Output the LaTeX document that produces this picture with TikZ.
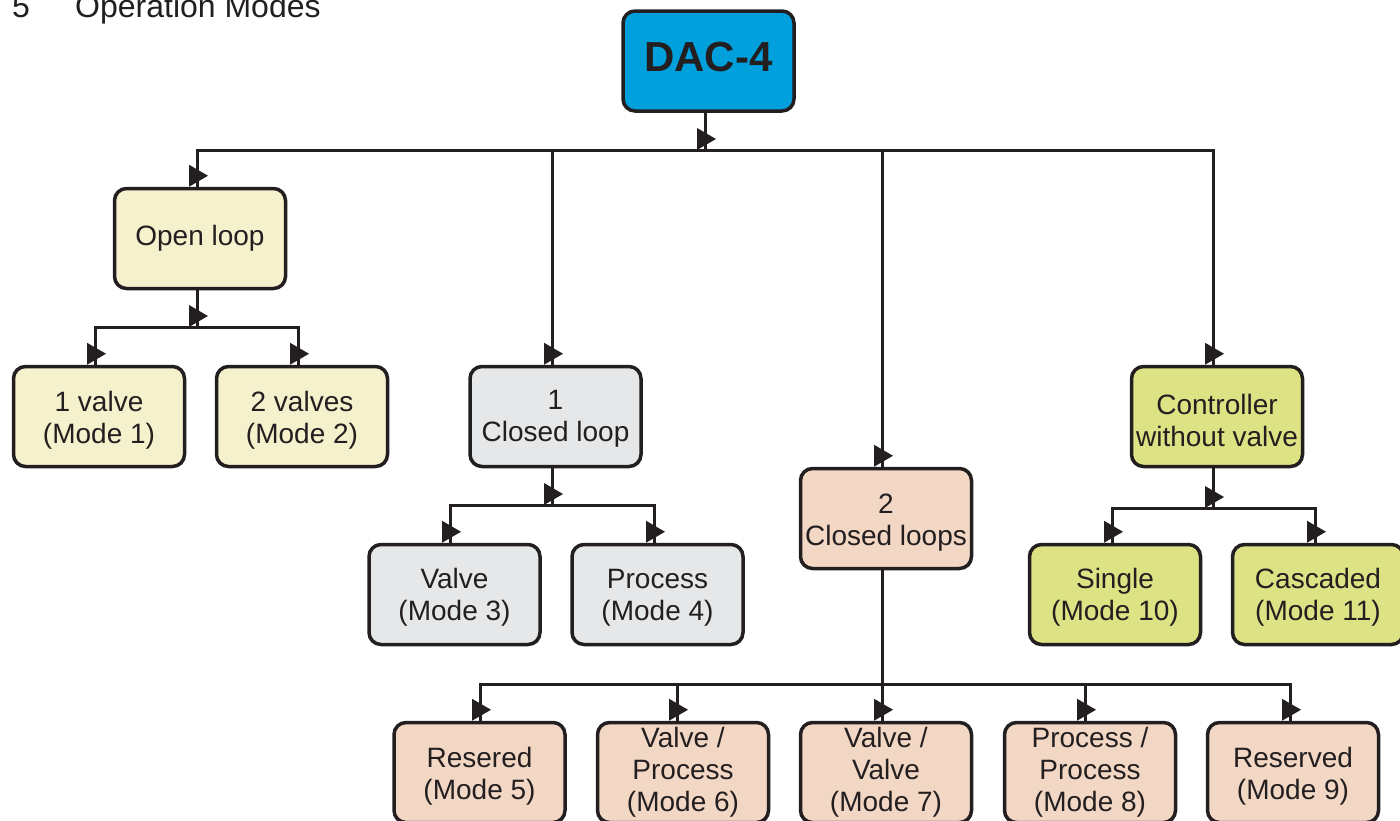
\documentclass[tikz,border=0pt]{standalone}
\usepackage{fontspec}
\setmainfont{Liberation Sans}
\definecolor{linec}{RGB}{35,31,32}
\definecolor{dacblue}{RGB}{0,160,221}
\definecolor{openyel}{RGB}{245,241,204}
\definecolor{cgray}{RGB}{230,231,232}
\definecolor{peach}{RGB}{243,215,197}
\definecolor{cgreen}{RGB}{221,226,132}
\newcommand\lift[1]{\rule{0pt}{#1pt}}
\begin{document}
\begin{tikzpicture}[x=1pt,y=-1pt,
  box/.style={draw=linec, line width=3.5pt, rounded corners=12pt,
    minimum width=171pt, minimum height=100pt, inner sep=2pt,
    align=center, text=linec, font=\fontsize{28}{32}\selectfont},
  conn/.style={draw=linec, line width=3pt},
  arrtip/.pic={\fill[linec] (-8pt,0pt) -- (-8pt,22pt) -- (11pt,11pt) -- cycle;},
  ttl/.style={anchor=base west, inner sep=0pt, text=linec, font=\fontsize{32}{36}\selectfont}]
\useasboundingbox (0,0) rectangle (1400,820);
\clip (0,0) rectangle (1400,820);

% title
\node[ttl] (num) at (12,17) {5};
\node[ttl] (title) at (75,17) {Operation Modes};

% boxes
\node[box, fill=dacblue, font=\fontsize{42}{48}\selectfont\bfseries] (dac) at (708.5,61) {DAC-4\rule[-8pt]{0pt}{0pt}};
\node[box, fill=openyel] (open) at (200,238.5) {Open loop};
\node[box, fill=openyel] (m1) at (99,416.5) {\lift{28.5}1 valve\\(Mode 1)};
\node[box, fill=openyel] (m2) at (302,416.5) {\lift{28.5}2 valves\\(Mode 2)};
\node[box, fill=cgray] (cl1) at (555.5,416.5) {\lift{23.5}1\\Closed loop};
\node[box, fill=cgray] (m3) at (454.5,594.5) {\lift{26.5}Valve\\(Mode 3)};
\node[box, fill=cgray] (m4) at (657.5,594.5) {\lift{26.5}Process\\(Mode 4)};
\node[box, fill=peach] (cl2) at (886,518.5) {\lift{28.5}2\\Closed loops};
\node[box, fill=cgreen] (ctrl) at (1217,416.5) {\lift{28.5}Controller\\without valve};
\node[box, fill=cgreen] (m10) at (1115,594.5) {\lift{26.5}Single\\(Mode 10)};
\node[box, fill=cgreen] (m11) at (1318,594.5) {\lift{26.5}Cascaded\\(Mode 11)};
\node[box, fill=peach] (m5) at (479.5,772.5) {\lift{28.5}Resered\\(Mode 5)};
\node[box, fill=peach] (m6) at (683,772.5) {Valve /\\Process\\(Mode 6)};
\node[box, fill=peach] (m7) at (886,772.5) {Valve /\\Valve\\(Mode 7)};
\node[box, fill=peach] (m8) at (1090,772.5) {Process /\\Process\\(Mode 8)};
\node[box, fill=peach] (m9) at (1293,772.5) {\lift{28.5}Reserved\\(Mode 9)};

% main bus
\coordinate (j0) at (705,150);
\coordinate (bL) at (197,150);
\coordinate (bR) at (1213,150);
\coordinate (b1) at (552,150);
\coordinate (b2) at (882,150);
\draw[conn] (dac.south -| j0) -- (j0);
\pic at (j0) {arrtip};
\draw[conn] (open.north -| bL) -- (bL) -- (bR) -- (ctrl.north -| bR);
\pic at (open.north -| bL) {arrtip};
\pic at (ctrl.north -| bR) {arrtip};
\draw[conn] (b1) -- (cl1.north -| b1);
\pic at (cl1.north -| b1) {arrtip};
\draw[conn] (b2) -- (cl2.north -| b2);
\pic at (cl2.north -| b2) {arrtip};

% open loop branch
\coordinate (s1) at (197,327);
\coordinate (s1L) at (95,327);
\coordinate (s1R) at (298,327);
\draw[conn] (open.south -| s1) -- (s1);
\pic at (s1) {arrtip};
\draw[conn] (m1.north -| s1L) -- (s1L) -- (s1R) -- (m2.north -| s1R);
\pic at (m1.north -| s1L) {arrtip};
\pic at (m2.north -| s1R) {arrtip};

% closed loop branch
\coordinate (s2) at (552,505);
\coordinate (s2L) at (450,505);
\coordinate (s2R) at (654,505);
\draw[conn] (cl1.south -| s2) -- (s2);
\pic at (s2) {arrtip};
\draw[conn] (m3.north -| s2L) -- (s2L) -- (s2R) -- (m4.north -| s2R);
\pic at (m3.north -| s2L) {arrtip};
\pic at (m4.north -| s2R) {arrtip};

% controller branch
\coordinate (s4) at (1213,508);
\coordinate (s4L) at (1112,508);
\coordinate (s4R) at (1315,508);
\draw[conn] (ctrl.south -| s4) -- (s4);
\pic at (s4) {arrtip};
\draw[conn] (m10.north -| s4L) -- (s4L) -- (s4R) -- (m11.north -| s4R);
\pic at (m10.north -| s4L) {arrtip};
\pic at (m11.north -| s4R) {arrtip};

% two closed loops branch
\coordinate (s3) at (882,684);
\coordinate (s3L) at (480,684);
\coordinate (s3R) at (1290,684);
\coordinate (s3a) at (677,684);
\coordinate (s3b) at (1085,684);
\draw[conn] (cl2.south -| s3) -- (m7.north -| s3);
\pic at (m7.north -| s3) {arrtip};
\draw[conn] (m5.north -| s3L) -- (s3L) -- (s3R) -- (m9.north -| s3R);
\pic at (m5.north -| s3L) {arrtip};
\pic at (m9.north -| s3R) {arrtip};
\draw[conn] (s3a) -- (m6.north -| s3a);
\pic at (m6.north -| s3a) {arrtip};
\draw[conn] (s3b) -- (m8.north -| s3b);
\pic at (m8.north -| s3b) {arrtip};
\end{tikzpicture}
\end{document}
